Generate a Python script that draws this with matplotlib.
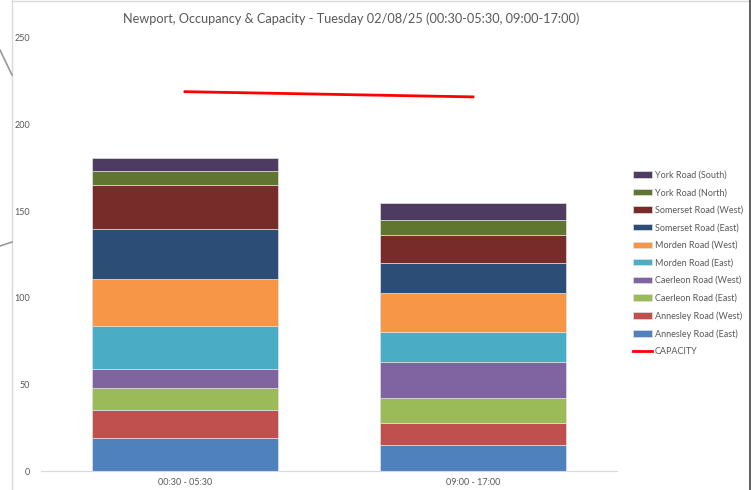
import matplotlib
matplotlib.use("Agg")
import matplotlib.pyplot as plt
import numpy as np
from matplotlib.lines import Line2D

plt.rcParams['font.family'] = ['Lato', 'DejaVu Sans']

categories = ["00:30 - 05:30", "09:00 - 17:00"]
series_names = ["Annesley Road (East)", "Annesley Road (West)", "Caerleon Road (East)",
                "Caerleon Road (West)", "Morden Road (East)", "Morden Road (West)",
                "Somerset Road (East)", "Somerset Road (West)", "York Road (North)",
                "York Road (South)"]
series_values = [
    [19, 15],
    [16, 13],
    [13, 14],
    [11, 21],
    [25, 17],
    [27, 23],
    [29, 17],
    [25, 16],
    [8, 9],
    [8, 10],
]
capacity = [219, 216]
yticks = [0, 50, 100, 150, 200, 250]
title = "Newport, Occupancy & Capacity - Tuesday 02/08/25 (00:30-05:30, 09:00-17:00)"

colors = ["#4F81BD", "#C0504D", "#9BBB59", "#8064A2", "#4BACC6", "#F79646",
          "#2C4D75", "#772C2A", "#5F7530", "#4D3B62"]

fig = plt.figure(figsize=(7.51, 4.90), dpi=100)
ax = fig.add_axes([41/751, 1-471/490, (617-41)/751, (471-38)/490])

x = np.arange(len(categories))
bottom = np.zeros(len(categories))
handles = []
for name, vals, c in zip(series_names, series_values, colors):
    b = ax.bar(x, vals, bottom=bottom, width=0.646, color=c, edgecolor="#e0e0e0",
               linewidth=0.5, label=name)
    bottom += np.array(vals)
    handles.append(b)

cap_line, = ax.plot(x, capacity, color="#FF0000", linewidth=2.0, label="CAPACITY")

ax.set_xlim(-0.5, 1.5)
ax.set_ylim(0, 250)
ax.set_yticks(yticks)
ax.set_yticklabels([str(t) for t in yticks])
ax.set_xticks(x)
ax.set_xticklabels(categories)
ax.tick_params(axis='both', length=0, labelsize=6.5, labelcolor="#595959")
ax.tick_params(axis='y', pad=8)
ax.tick_params(axis='x', pad=5)
for s in ["top", "right", "left"]:
    ax.spines[s].set_visible(False)
ax.spines["bottom"].set_color("#d9d9d9")
ax.spines["bottom"].set_linewidth(0.8)

fig.text(351/751, 1-19/490, title, ha="center", va="center", fontsize=9.2, color="#595959")

leg_handles = [h for h in handles[::-1]] + [cap_line]
leg_labels = series_names[::-1] + ["CAPACITY"]
leg = fig.legend(leg_handles, leg_labels, loc="upper left",
                 bbox_to_anchor=(628/751, 1-166/490), frameon=False,
                 fontsize=6.5, labelcolor="#595959", handlelength=2.2, handleheight=0.7,
                 handletextpad=0.3, labelspacing=0.95, borderpad=0)

# frame lines of the chart object
fig.add_artist(Line2D([12/751, 12/751], [0, 1], color="#d9d9d9", lw=1, transform=fig.transFigure))
fig.add_artist(Line2D([12/751, 1], [1-1/490, 1-1/490], color="#d9d9d9", lw=1, transform=fig.transFigure))
fig.add_artist(Line2D([749.5/751, 749.5/751], [0, 1], color="#444444", lw=1.2, transform=fig.transFigure))
# stray gray connector lines on the left edge
fig.add_artist(Line2D([0, 12/751], [1-50/490, 1-75/490], color="#999999", lw=1.2, transform=fig.transFigure))
fig.add_artist(Line2D([0, 12/751], [1-246/490, 1-242/490], color="#999999", lw=1.2, transform=fig.transFigure))

fig.savefig("out.png", dpi=100)
